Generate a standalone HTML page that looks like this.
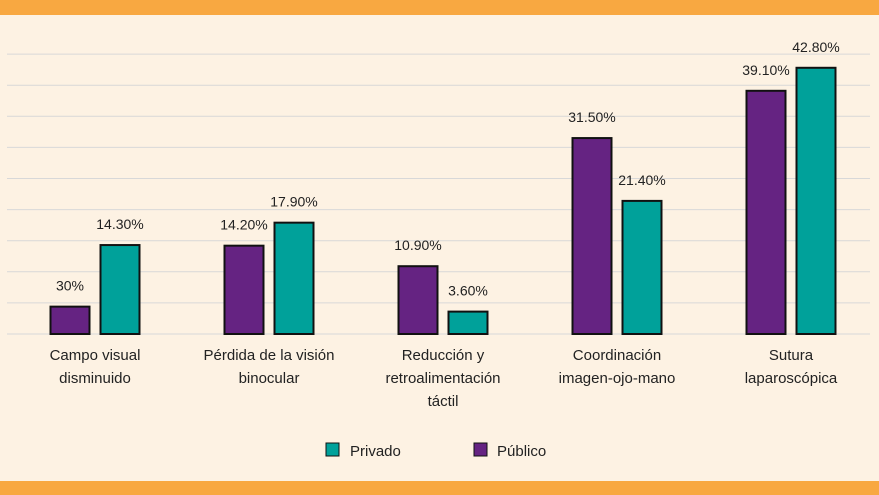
<!DOCTYPE html>
<html><head><meta charset="utf-8"><style>
body{margin:0;background:#fdf2e3;}
svg{display:block;font-family:"Liberation Sans",sans-serif;}
</style></head><body>
<svg id="c" width="879" height="495">
<rect x="0" y="0" width="879" height="495" fill="#fdf2e3"/>
<rect x="0" y="0" width="879" height="15" fill="#f8a841"/>
<rect x="0" y="481" width="879" height="14" fill="#f8a841"/>
<g id="grid"></g><g id="bars"></g><g id="labels"></g>
<g>
<rect x="326" y="443" width="13" height="13" fill="#00a19a" stroke="#111" stroke-width="1"/>
<text x="350" y="456" font-size="15" fill="#222">Privado</text>
<rect x="474" y="443" width="13" height="13" fill="#652382" stroke="#111" stroke-width="1"/>
<text x="497" y="456" font-size="15" fill="#222">Público</text>
</g>
</svg>
<script>
const categories=[["Campo visual","disminuido"],["Pérdida de la visión","binocular"],["Reducción y","retroalimentación","táctil"],["Coordinación","imagen-ojo-mano"],["Sutura","laparoscópica"]];
const publico=[4.4,14.2,10.9,31.5,39.1];
const privado=[14.3,17.9,3.6,21.4,42.8];
const publicoLabels=["30%","14.20%","10.90%","31.50%","39.10%"];
const privadoLabels=["14.30%","17.90%","3.60%","21.40%","42.80%"];
const gridTicks=[0,5,10,15,20,25,30,35,40,45];
const NS="http://www.w3.org/2000/svg";
const base=334,pxPer=6.22,x0=8,band=174,bw=39,gap=11;
const y=v=>base-v*pxPer;
const cx=i=>x0+band*i+band/2;
function mk(t,a,p){const e=document.createElementNS(NS,t);for(const k in a)e.setAttribute(k,a[k]);p.appendChild(e);return e;}
const g=document.getElementById('grid'),b=document.getElementById('bars'),l=document.getElementById('labels');
gridTicks.forEach(t=>{const e=mk('line',{x1:7,x2:870,y1:y(t),y2:y(t),stroke:'#d8d8d8','stroke-width':1},g);

});
categories.forEach((c,i)=>{
 const xp=cx(i)-gap/2-bw, xq=cx(i)+gap/2;
 const r1=mk('rect',{x:xp,y:y(publico[i]),width:bw,height:publico[i]*pxPer,fill:'#652382',stroke:'#111','stroke-width':2},b);
 
 
 const r2=mk('rect',{x:xq,y:y(privado[i]),width:bw,height:privado[i]*pxPer,fill:'#00a19a',stroke:'#111','stroke-width':2},b);
 
 
 const t1=mk('text',{x:xp+bw/2,y:y(publico[i])-16,'font-size':14,fill:'#222','text-anchor':'middle'},l);t1.textContent=publicoLabels[i];
 
 
 const t2=mk('text',{x:xq+bw/2,y:y(privado[i])-16,'font-size':14,fill:'#222','text-anchor':'middle'},l);t2.textContent=privadoLabels[i];
 
 
 c.forEach((line,j)=>{const t=mk('text',{x:cx(i),y:360+j*23,'font-size':15,fill:'#222','text-anchor':'middle'},l);t.textContent=line;
 
 });
});
</script>
</body></html>
